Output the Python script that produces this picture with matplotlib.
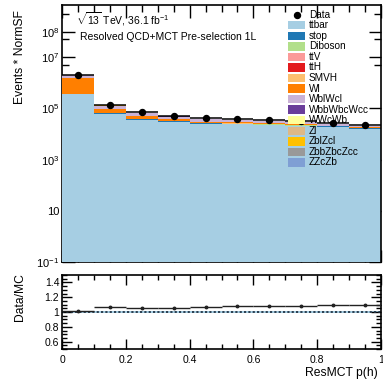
import numpy as np
import matplotlib
matplotlib.use("Agg")
import matplotlib.pyplot as plt
from matplotlib.patches import Rectangle
from matplotlib.lines import Line2D
from matplotlib.ticker import FixedLocator, FuncFormatter, MultipleLocator, NullFormatter

plt.rcParams['font.family'] = ['Liberation Sans', 'DejaVu Sans']
plt.rcParams['mathtext.fontset'] = 'custom'
plt.rcParams['mathtext.rm'] = 'Liberation Sans'
plt.rcParams['mathtext.it'] = 'Liberation Sans:italic'
plt.rcParams['mathtext.bf'] = 'Liberation Sans:bold'

# ResMCT p(h) binning
bin_edges = [0.0, 0.1, 0.2, 0.3, 0.4, 0.5, 0.6, 0.7, 0.8, 0.9, 1.0]

data = [2.04e6, 1.41e5, 7.24e4, 5.25e4, 4.27e4, 3.98e4, 3.63e4, 3.16e4, 2.75e4, 2.34e4]

ttbar = [3.6e5, 6.3e4, 3.65e4, 2.95e4, 2.5e4, 2.4e4, 2.22e4, 2.05e4, 1.88e4, 1.63e4]
stop = [8e3, 3.0e3, 2.0e3, 1.8e3, 1.5e3, 1.2e3, 1.1e3, 1.0e3, 9e2, 8e2]
diboson = [6e3, 1.5e3, 1.0e3, 7e2, 6e2, 5e2, 4e2, 4e2, 3e2, 3e2]
ttV = [5e2, 1.2e2, 80, 60, 50, 45, 40, 35, 30, 25]
ttH = [1e2, 30, 20, 15, 12, 10, 9, 8, 7, 6]
SMVH = [8e2, 2e2, 1.2e2, 90, 70, 60, 55, 50, 45, 40]
Wl = [1.14e6, 2.7e4, 1.1e4, 5e3, 3e3, 2.5e3, 2e3, 1.6e3, 1.2e3, 9e2]
WblWcl = [4.3e5, 3.2e4, 1.5e4, 1.09e4, 8.6e3, 7.6e3, 6.9e3, 4.85e3, 3.4e3, 2.45e3]
WbbWbcWcc = [2.5e4, 1.5e3, 7e2, 5e2, 4e2, 3.5e2, 3e2, 2.5e2, 2e2, 1.6e2]
WWcWb = [3e3, 3e2, 1.5e2, 1e2, 80, 70, 60, 50, 40, 35]
Zl = [2.5e4, 1.5e3, 6e2, 3e2, 2e2, 1.6e2, 1.4e2, 1.2e2, 1e2, 80]
ZblZcl = [8e3, 5e2, 2e2, 1e2, 80, 70, 60, 50, 40, 35]
ZbbZbcZcc = [1.2e4, 2e3, 8e2, 4e2, 3e2, 2.5e2, 2e2, 1.8e2, 1.5e2, 1.2e2]
ZZcZb = [2e3, 2e2, 80, 50, 40, 35, 30, 25, 20, 18]

sample_names = ["ttbar", "stop", "Diboson", "ttV", "ttH", "SMVH", "Wl", "WblWcl",
                "WbbWbcWcc", "WWcWb", "Zl", "ZblZcl", "ZbbZbcZcc", "ZZcZb"]
sample_values = [ttbar, stop, diboson, ttV, ttH, SMVH, Wl, WblWcl,
                 WbbWbcWcc, WWcWb, Zl, ZblZcl, ZbbZbcZcc, ZZcZb]
sample_colors = ["#a6cee3", "#1f78b4", "#b2df8a", "#fb9a99", "#e31a1c", "#fdbf6f",
                 "#ff7f00", "#cab2d6", "#6a3d9a", "#ffff99", "#deb887", "#ffc000",
                 "#999999", "#7f9fd4"]

ytick_vals = [1e-1, 1e1, 1e3, 1e5, 1e7, 1e8]
ytick_labels = [r"$10^{-1}$", "10", r"$10^{3}$", r"$10^{5}$", r"$10^{7}$", r"$10^{8}$"]

W, H = 383, 392
fig = plt.figure(figsize=(W / 100, H / 100), dpi=100)

def px_rect(x0, y0, x1, y1):
    return [x0 / W, 1 - y1 / H, (x1 - x0) / W, (y1 - y0) / H]

ax = fig.add_axes(px_rect(62, 5, 381, 262))
rax = fig.add_axes(px_rect(62, 275, 381, 349))

edges = np.array(bin_edges)
centers = 0.5 * (edges[:-1] + edges[1:])
half_w = 0.5 * np.diff(edges)

# stacked backgrounds
base = np.full(len(centers), 1e-4)
total = np.zeros(len(centers))
for vals, col in zip(sample_values, sample_colors):
    v = np.array(vals, dtype=float)
    top = total + v
    ax.stairs(np.maximum(top, 1e-4), edges, baseline=base, fill=True,
              color=col, lw=0, zorder=1)
    total = top
    base = top.copy()

# data
d = np.array(data)
ax.errorbar(centers, d, xerr=half_w, yerr=np.sqrt(d), fmt='o', color='black',
            ms=4.3, lw=1.1, capsize=0, zorder=5)

ax.set_yscale('log')
ax.set_xlim(0, 1)
ax.set_ylim(0.1, 1.1e9)
ax.yaxis.set_major_locator(FixedLocator(ytick_vals))
ax.set_yticklabels(ytick_labels)
ax.yaxis.set_minor_locator(FixedLocator([5e6, 5e7, 5e8]))
ax.yaxis.set_minor_formatter(NullFormatter())
ax.xaxis.set_major_locator(MultipleLocator(0.2))
ax.xaxis.set_minor_locator(MultipleLocator(0.05))
ax.xaxis.set_major_formatter(NullFormatter())
ax.tick_params(which='both', direction='in', top=True, right=True, labelsize=8, pad=2)
ax.tick_params(which='major', length=9, width=1)
ax.tick_params(which='minor', length=5, width=1)
ax.set_axisbelow(True)
for s in ax.spines.values():
    s.set_linewidth(1.2)
ax.spines['left'].set_zorder(0.5)
ax.spines['bottom'].set_zorder(0.5)

# labels
fig.text(20 / W, 1 - 10 / H, "Events * NormSF", rotation=90, ha='center', va='top', fontsize=8.7)
ax.text(80 / W * W, 0, "")
fig.text(76 / W, 1 - 19 / H, r"$\sqrt{13}$ TeV, 36.1 fb$^{-1}$", ha='left', va='center', fontsize=7.5)
fig.text(80 / W, 1 - 36.7 / H, "Resolved QCD+MCT Pre-selection 1L", ha='left', va='center', fontsize=7.5)

# legend
row0, dy = 14.7, 10.55
fig.add_artist(Line2D([297 / W], [1 - row0 / H], marker='o', color='black', ms=4.3, ls='none'))
fig.text(308.7 / W, 1 - row0 / H, "Data", ha='left', va='center', fontsize=7.2)
for i, (name, col) in enumerate(zip(sample_names, sample_colors)):
    yc = row0 + (i + 1) * dy
    fig.add_artist(Rectangle((287.7 / W, 1 - (yc + 4.2) / H), 17.6 / W, 8.4 / H,
                             transform=fig.transFigure, color=col, lw=0))
    fig.text(308.7 / W, 1 - yc / H, name, ha='left', va='center', fontsize=7.2)

# ratio panel
ratio = d / total
rax.fill_between([0, 1], 0.993, 1.007, color='#a6cee3', lw=0, zorder=1)
rax.axhline(1.0, color='#223344', ls=(0, (1.2, 1.2)), lw=1.3, zorder=2)
rax.errorbar(centers, ratio, xerr=half_w, yerr=np.sqrt(d) / total, fmt='o', color='#222222',
             ms=1.8, lw=1.0, capsize=0, zorder=5)
rax.set_xlim(0, 1)
rax.set_ylim(0.5, 1.5)
rax.yaxis.set_major_locator(FixedLocator([0.6, 0.8, 1.0, 1.2, 1.4]))
rax.yaxis.set_minor_locator(MultipleLocator(0.05))
rax.xaxis.set_major_locator(MultipleLocator(0.2))
rax.xaxis.set_minor_locator(MultipleLocator(0.05))
g = FuncFormatter(lambda v, p: f"{v:g}")
rax.yaxis.set_major_formatter(g)
rax.xaxis.set_major_formatter(g)
rax.tick_params(which='both', direction='in', top=True, right=True, labelsize=7.5, pad=2)
rax.tick_params(axis='x', pad=4)
rax.tick_params(which='major', length=7, width=1)
rax.tick_params(which='minor', length=3.5, width=1)
for s in rax.spines.values():
    s.set_linewidth(1.2)

fig.text(20 / W, 1 - 273 / H, "Data/MC", rotation=90, ha='center', va='top', fontsize=8.7)
fig.text(378 / W, 1 - 373 / H, "ResMCT p(h)", ha='right', va='center', fontsize=8.7)

fig.savefig("out.png", dpi=100)
